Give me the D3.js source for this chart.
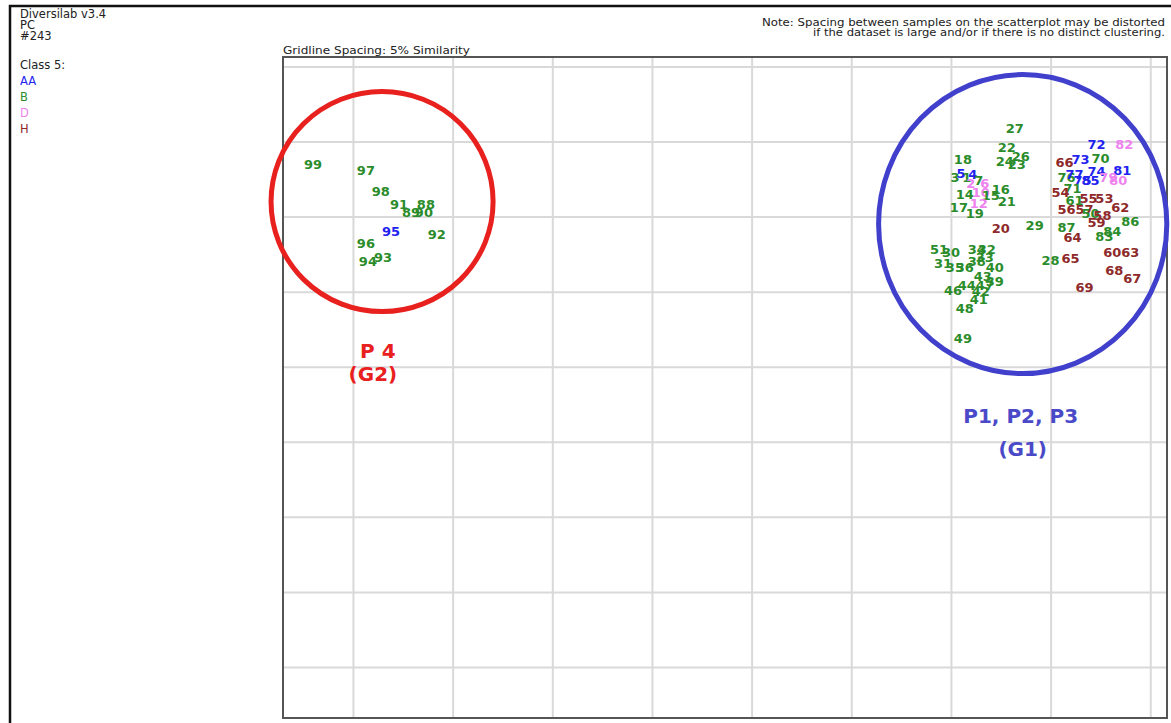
<!DOCTYPE html>
<html>
<head>
<meta charset="utf-8">
<script src="https://cdn.jsdelivr.net/npm/d3@7"></script>
<style>
  html, body { margin: 0; padding: 0; background: #fff; }
  svg { display: block; }
  text { font-family: "DejaVu Sans", Verdana, sans-serif; }
</style>
</head>
<body>
<svg id="chart" width="1171" height="723"></svg>
<script>
// Class labels and their colours
const classNames = ["AA", "B", "D", "H"];
const classColors = ["#2323f0", "#2b8c2b", "#ee82ee", "#8e2a2a"];

// Sample numbers, their class and position (similarity units)
const sampleIds = [
  "99","97","98","91","88","89","90","95","92","96","93","94",
  "27","22","24","26","23","18","3","5","1","4","2","7","6","14","10","15","16","12","21","17","19",
  "72","82","66","73","70","81","76","77","74","75","85","79","80","71","54","61","55","53","56","57","62",
  "50","58","59","86","87","84","83","64","60","63","28","65","68","67","69",
  "29","20","51","30","34","32","31","35","36","38","33","40","43","39","44","47","46","42","41","48","49"
];
const sampleClass = [
  "B","B","B","B","B","B","B","AA","B","B","B","B",
  "B","B","B","B","B","B","B","AA","B","AA","D","B","D","B","D","B","B","D","B","B","B",
  "AA","D","H","AA","B","AA","B","AA","AA","AA","AA","D","D","B","H","B","H","H","H","H","H",
  "B","H","H","B","B","B","B","H","H","H","B","H","H","H","H",
  "B","H","B","B","B","B","B","B","B","B","B","B","B","B","B","B","B","B","B","B","B"
];
const sampleX = [
  -2.0, 0.65, 1.4, 2.31, 3.66, 2.91, 3.56, 1.91, 4.21, 0.65, 1.51, 0.75,
  33.2, 32.8, 32.7, 33.5, 33.3, 30.6, 30.2, 30.5, 30.8, 31.1, 31.0, 31.4, 31.7, 30.7, 31.5, 32.0, 32.5, 31.4, 32.8, 30.4, 31.2,
  37.3, 38.7, 35.7, 36.5, 37.5, 38.6, 35.8, 36.2, 37.3, 36.6, 37.0, 37.9, 38.4, 36.1, 35.5, 36.2, 36.9, 37.7, 35.8, 36.7, 38.5,
  37.0, 37.6, 37.3, 39.0, 35.8, 38.1, 37.7, 36.1, 38.1, 39.0, 35.0, 36.0, 38.2, 39.1, 36.7,
  34.2, 32.5, 29.4, 30.0, 31.3, 31.8, 29.6, 30.2, 30.7, 31.3, 31.7, 32.2, 31.6, 32.2, 30.8, 31.7, 30.1, 31.5, 31.4, 30.7, 30.6
];
const sampleY = [
  33.5, 33.1, 31.7, 30.8, 30.8, 30.3, 30.3, 29.0, 28.8, 28.2, 27.3, 27.0,
  35.9, 34.6, 33.7, 34.0, 33.5, 33.8, 32.6, 32.9, 32.6, 32.8, 32.2, 32.4, 32.2, 31.5, 31.6, 31.4, 31.8, 30.9, 31.0, 30.6, 30.2,
  34.8, 34.8, 33.6, 33.8, 33.9, 33.1, 32.6, 32.8, 33.0, 32.4, 32.4, 32.6, 32.4, 31.9, 31.6, 31.1, 31.2, 31.2, 30.5, 30.5, 30.6,
  30.2, 30.1, 29.6, 29.7, 29.3, 29.0, 28.7, 28.6, 27.6, 27.6, 27.1, 27.2, 26.4, 25.9, 25.3,
  29.4, 29.2, 27.8, 27.6, 27.8, 27.8, 26.9, 26.6, 26.6, 27.0, 27.3, 26.6, 26.0, 25.7, 25.4, 25.4, 25.1, 25.0, 24.5, 23.9, 21.9
];

// Cluster outlines: centre and radii in similarity units
const clusterNames = ["G2", "G1"];
const clusterCx = [1.46, 33.6];
const clusterCy = [31.0, 29.5];
const clusterRx = [5.57, 7.23];
const clusterRy = [7.33, 9.96];
const clusterColors = ["#e8201e", "#4040cc"];

// Cluster captions
const captionText = ["P 4", "(G2)", "P1, P2, P3", "(G1)"];
const captionX = [1.25, 1.0, 33.5, 33.6];
const captionY = [21.05, 19.5, 16.7, 14.5];
const captionColors = ["#e8201e", "#e8201e", "#4a4ac8", "#4a4ac8"];

// Gridlines every 5% similarity
const gridTicks = [0, 5, 10, 15, 20, 25, 30, 35, 40];

const headerLines = ["Diversilab v3.4", "PC", "#243"];
const noteLines = [
  "Note: Spacing between samples on the scatterplot may be distorted",
  "if the dataset is large and/or if there is no distinct clustering."
];
const noteWidths = [403, 352];
const gridCaption = "Gridline Spacing: 5% Similarity";
const legendTitle = "Class 5:";

const svg = d3.select("#chart");
const plot = { left: 283, top: 57, right: 1167, bottom: 718 };

const x = d3.scaleLinear().domain([-3.51, 40.84]).range([plot.left, plot.right]);
const y = d3.scaleLinear().domain([-3.4, 40.63]).range([plot.bottom, plot.top]);
const color = d3.scaleOrdinal().domain(classNames).range(classColors);

// Outer frame
svg.append("rect")
  .attr("x", 10).attr("y", 6).attr("width", 1200).attr("height", 760)
  .attr("fill", "none").attr("stroke", "#111").attr("stroke-width", 2.5);

// Header text
svg.append("g").selectAll("text").data(headerLines).join("text")
  .attr("x", 20).attr("y", (d, i) => 18 + i * 11)
  .attr("font-size", 11.5).attr("fill", "#222").text(d => d);

svg.append("text").attr("x", 20).attr("y", 69)
  .attr("font-size", 11.5).attr("fill", "#222").text(legendTitle);

svg.append("g").selectAll("text").data(classNames).join("text")
  .attr("x", 20).attr("y", (d, i) => 85 + i * 16)
  .attr("font-size", 11.5).attr("fill", d => color(d)).text(d => d);

// Note at top right
svg.append("g").selectAll("text").data(noteLines).join("text")
  .attr("x", 1165).attr("y", (d, i) => 26 + i * 10)
  .attr("text-anchor", "end").attr("font-size", 10.5).attr("fill", "#222")
  .attr("textLength", (d, i) => noteWidths[i])
  .attr("lengthAdjust", "spacingAndGlyphs")
  .text(d => d);

svg.append("text").attr("x", 283).attr("y", 54)
  .attr("font-size", 11).attr("fill", "#222")
  .attr("textLength", 187).attr("lengthAdjust", "spacingAndGlyphs")
  .text(gridCaption);

// Gridlines drawn with axes
const gridV = svg.append("g")
  .attr("transform", `translate(0,${plot.bottom})`)
  .call(d3.axisBottom(x).tickValues(gridTicks).tickSize(-(plot.bottom - plot.top)).tickFormat(""));
const gridH = svg.append("g")
  .attr("transform", `translate(${plot.left},0)`)
  .call(d3.axisLeft(y).tickValues(gridTicks).tickSize(-(plot.right - plot.left)).tickFormat(""));
[gridV, gridH].forEach(g => {
  g.select(".domain").remove();
  g.selectAll(".tick line").attr("stroke", "#d9d9d9").attr("stroke-width", 2);
});

// Plot border
svg.append("rect")
  .attr("x", plot.left).attr("y", plot.top)
  .attr("width", plot.right - plot.left).attr("height", plot.bottom - plot.top)
  .attr("fill", "none").attr("stroke", "#555").attr("stroke-width", 2);

// Sample labels
const samples = sampleIds.map((id, i) => ({ id, cls: sampleClass[i], x: sampleX[i], y: sampleY[i] }));
svg.append("g").selectAll("text").data(samples).join("text")
  .attr("x", d => x(d.x)).attr("y", d => y(d.y))
  .attr("text-anchor", "middle").attr("dominant-baseline", "central")
  .attr("font-size", 13).attr("font-weight", "bold")
  .attr("fill", d => color(d.cls))
  .text(d => d.id);

// Cluster outlines
const clusters = clusterNames.map((n, i) => ({
  n, cx: clusterCx[i], cy: clusterCy[i], rx: clusterRx[i], ry: clusterRy[i], c: clusterColors[i]
}));
svg.append("g").selectAll("ellipse").data(clusters).join("ellipse")
  .attr("cx", d => x(d.cx)).attr("cy", d => y(d.cy))
  .attr("rx", d => x(d.cx + d.rx) - x(d.cx))
  .attr("ry", d => y(d.cy) - y(d.cy + d.ry))
  .attr("fill", "none").attr("stroke", d => d.c).attr("stroke-width", 5);

// Cluster captions
const captions = captionText.map((t, i) => ({ t, x: captionX[i], y: captionY[i], c: captionColors[i] }));
svg.append("g").selectAll("text").data(captions).join("text")
  .attr("x", d => x(d.x)).attr("y", d => y(d.y))
  .attr("text-anchor", "middle").attr("dominant-baseline", "central")
  .attr("font-size", 20).attr("font-weight", "bold")
  .attr("fill", d => d.c).text(d => d.t);
</script>
</body>
</html>
